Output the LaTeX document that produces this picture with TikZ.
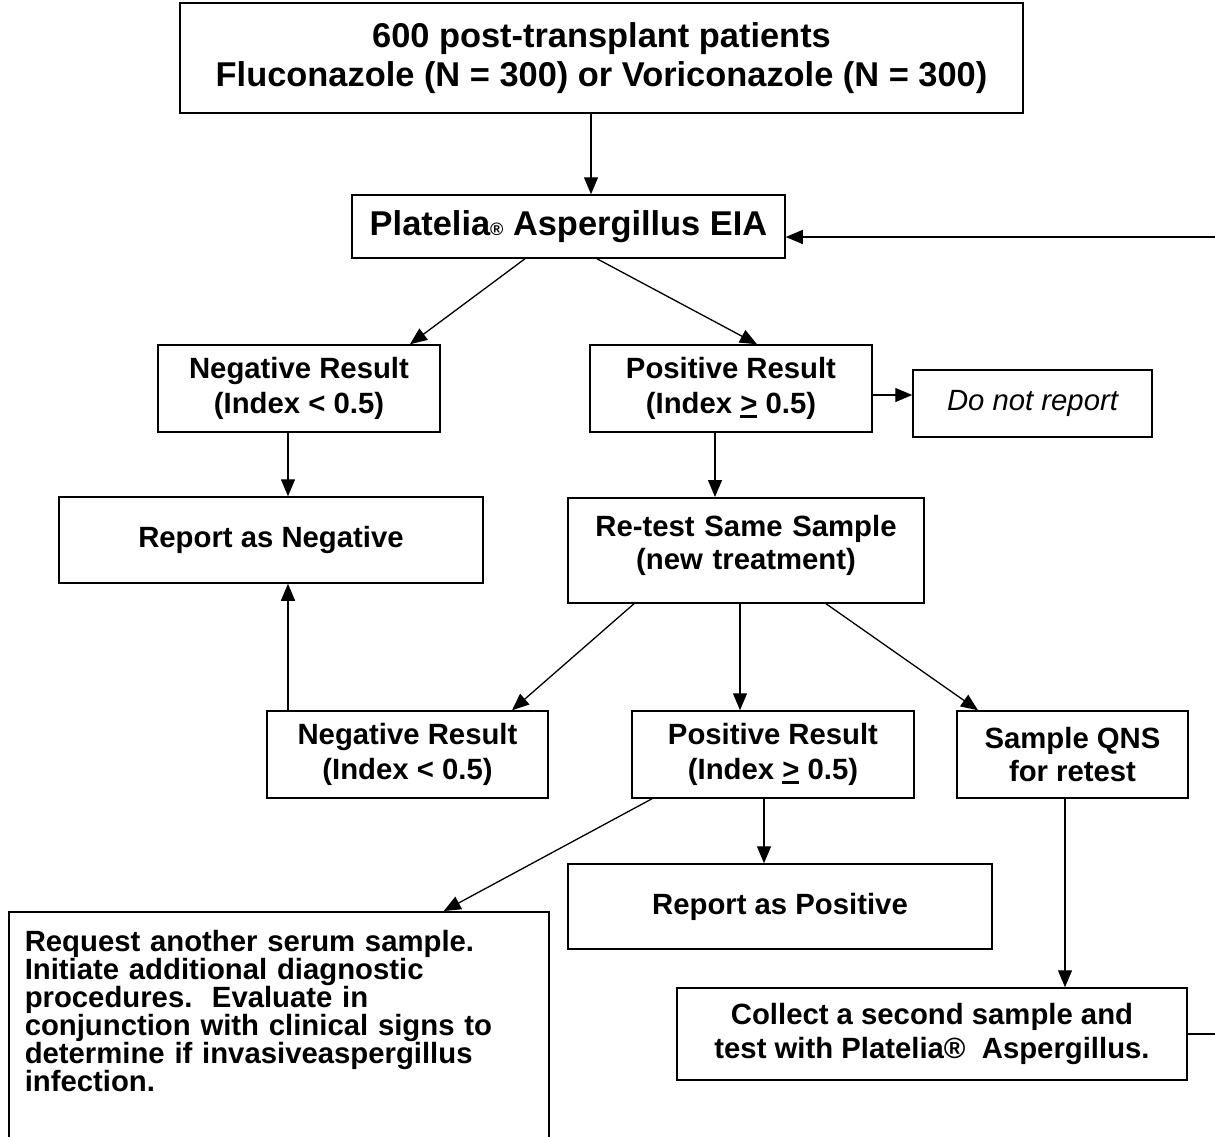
\documentclass[tikz,border=0pt]{standalone}
\usepackage{fontspec}
\setmainfont{Liberation Sans}
\usetikzlibrary{arrows.meta}

\newcommand{\ulgt}{\setbox0\hbox{>}\rlap{\rule[-4.5pt]{\wd0}{2.8pt}}\box0}

\tikzset{
    box/.style={draw, line width=1.5pt, inner sep=0pt, align=center,
        font=\bfseries\fontsize{29.3}{35}\selectfont},
    link/.style={line width=1.3pt, -{Triangle[length=17pt,width=14pt]}},
}

\begin{document}
\begin{tikzpicture}[x=1pt,y=-1pt]
            \useasboundingbox (0,0) rectangle (1215,1136);
            \node[box,minimum width=843pt,minimum height=110pt,
                font=\bfseries\fontsize{34.4}{39}\selectfont] (top)
                at (601.5,58) {600 post-transplant patients\\
                Fluconazole (N = 300) or Voriconazole (N = 300)};
            \node[box,minimum width=433pt,minimum height=63pt,
                font=\bfseries\fontsize{34.4}{39}\selectfont] (plat)
                at (568.5,226.5) {Platelia{\fontsize{18}{18}\selectfont\textregistered} Aspergillus EIA};
            \node[box,minimum width=282pt,minimum height=87pt] (negA)
                at (299,388.5) {Negative Result\\(Index < 0.5)};
            \node[box,minimum width=282pt,minimum height=87pt] (posA)
                at (731,388.5) {Positive Result\\(Index \ulgt{} 0.5)};
            \node[box,minimum width=239pt,minimum height=67pt,
                font=\itshape\fontsize{29.3}{35}\selectfont] (nogo)
                at (1032.5,403.5) {Do not report};
            \node[box,minimum width=424pt,minimum height=86pt] (repneg)
                at (271,540) {Report as Negative};
            \node[box,anchor=north,text width=356pt,inner ysep=17.5pt,
                text depth=49pt,font=\bfseries\fontsize{29.3}{33}\selectfont] (retest)
                at (746,497) {Re-test Same Sample\\(new treatment)};
            \node[box,minimum width=281pt,minimum height=87pt] (negB)
                at (407.5,754.5) {Negative Result\\(Index < 0.5)};
            \node[box,minimum width=282pt,minimum height=87pt] (posB)
                at (773,754.5) {Positive Result\\(Index \ulgt{} 0.5)};
            \node[box,minimum width=231pt,minimum height=87pt,
                font=\bfseries\fontsize{29.3}{33}\selectfont] (qns)
                at (1072.5,754.5) {Sample QNS\\for retest};
            \node[box,minimum width=424pt,minimum height=85pt] (reppos)
                at (780,906.5) {Report as Positive};
            \node[box,anchor=north west,align=left,text width=508pt,
                inner xsep=16pt,inner ysep=18.5pt,text depth=240pt,
                font=\bfseries\fontsize{29.3}{28}\selectfont] (request)
                at (8,911) {Request another serum sample.\\
                Initiate additional diagnostic\\
                procedures.\ \ Evaluate in\\
                conjunction with clinical signs to\\
                determine if invasiveaspergillus\\
                infection.};
            \node[box,minimum width=510pt,minimum height=92pt,
                font=\bfseries\fontsize{29.3}{34}\selectfont] (collect)
                at (932,1034) {Collect a second sample and\\
                test with Platelia\textregistered\ \ Aspergillus.};
            \coordinate (loopin) at (1215,237);
            \coordinate (loopout) at (1215,1034);
            \draw[link] ([xshift=-10.5pt]top.south) -- ([xshift=22.5pt]plat.north);
            \draw[link] ([xshift=-43.5pt]plat.south) -- ([xshift=111pt]negA.north);
            \draw[link] ([xshift=28.5pt]plat.south) -- ([xshift=26pt]posA.north);
            \draw[link] ([yshift=-6.5pt]posA.east) -- ([yshift=8.5pt]nogo.west);
            \draw[link] ([xshift=-11pt]negA.south) -- ([xshift=17pt]repneg.north);
            \draw[link] ([xshift=-16pt]posA.south) -- ([xshift=-31pt]retest.north);
            \draw[link] ([xshift=-112pt]retest.south) -- ([xshift=104.5pt]negB.north);
            \draw[link] ([xshift=-6pt]retest.south) -- ([xshift=-33pt]posB.north);
            \draw[link] ([xshift=80pt]retest.south) -- ([xshift=-94.5pt]qns.north);
            \draw[link] ([xshift=-119.5pt]negB.north) -- ([xshift=17pt]repneg.south);
            \draw[link] ([xshift=-121pt]posB.south) -- ([xshift=165pt]request.north);
            \draw[link] ([xshift=-9pt]posB.south) -- ([xshift=-16pt]reppos.north);
            \draw[link] ([xshift=-7.5pt]qns.south) -- ([xshift=133pt]collect.north);
            \draw[line width=1.3pt] (collect.east) -- (loopout);
            \draw[link] (loopin) -- ([yshift=-10.5pt]plat.east);
        \end{tikzpicture}
\end{document}
